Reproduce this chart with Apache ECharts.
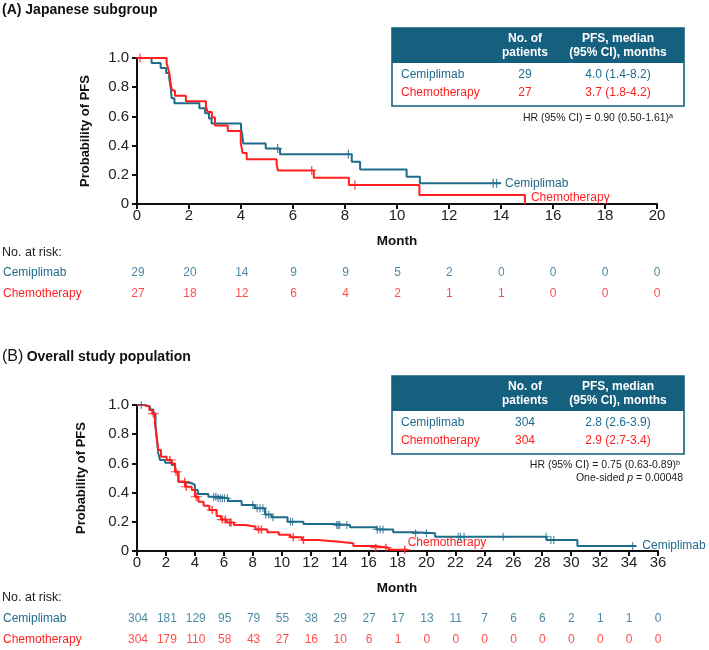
<!DOCTYPE html>
<html><head><meta charset="utf-8">
<script src="https://cdn.jsdelivr.net/npm/echarts@6/dist/echarts.min.js"></script>
<style>html,body{margin:0;padding:0;background:#fff}#c{width:709px;height:650px}</style>
</head><body><div id="c"></div>
<script>
const FONT = "'Liberation Sans', Arial, sans-serif";
const BLUE = '#1f6b8c';
const RED = '#ff1f1f';
const HEAD = '#155f7f';

// ---------- Panel A : Japanese subgroup ----------
const aCemiTime = [0, 0.56, 0.91, 1.12, 1.24, 1.3, 1.33, 1.44, 2.4, 2.62, 2.77, 2.87, 4.0, 4.04, 4.09, 4.95, 5.5, 8.26, 8.58, 10.37, 10.88, 14.0];
const aCemiSurv = [1.0, 0.966, 0.931, 0.897, 0.862, 0.793, 0.724, 0.69, 0.655, 0.621, 0.586, 0.552, 0.517, 0.483, 0.414, 0.38, 0.34, 0.29, 0.237, 0.187, 0.142, 0.142];
const aCemiCensor = [5.41, 8.13, 13.7, 13.83];
const aChemoTime = [0, 1.14, 1.2, 1.25, 1.3, 1.35, 1.46, 1.88, 2.65, 2.72, 2.88, 3.0, 3.49, 3.99, 4.06, 4.22, 5.37, 5.42, 6.8, 8.15, 10.86, 14.92];
const aChemoSurv = [1.0, 0.963, 0.926, 0.889, 0.815, 0.778, 0.741, 0.704, 0.667, 0.63, 0.593, 0.537, 0.5, 0.42, 0.35, 0.306, 0.27, 0.23, 0.18, 0.13, 0.062, 0];
const aChemoCensor = [0.12, 6.72, 8.38];
const aRiskMonths = [0, 2, 4, 6, 8, 10, 12, 14, 16, 18, 20];
const aRiskCemi = [29, 20, 14, 9, 9, 5, 2, 0, 0, 0, 0];
const aRiskChemo = [27, 18, 12, 6, 4, 2, 1, 1, 0, 0, 0];

// ---------- Panel B : Overall study population ----------
const bCemiTime = [0, 0.5, 0.9, 1.13, 1.28, 1.38, 1.47, 1.59, 1.94, 2.4, 2.63, 2.86, 3.2, 3.78, 4.0, 4.2, 4.93, 5.6, 6.3, 7.23, 8.15, 8.85, 9.3, 10.4, 11.5, 13.57, 14.72, 16.56, 17.7, 19.2, 20.6, 28.3, 30.43, 34.5];
const bCemiSurv = [1.0, 0.99, 0.97, 0.943, 0.85, 0.76, 0.67, 0.623, 0.605, 0.589, 0.543, 0.475, 0.464, 0.453, 0.418, 0.39, 0.372, 0.361, 0.342, 0.315, 0.292, 0.25, 0.231, 0.2, 0.185, 0.178, 0.162, 0.148, 0.128, 0.121, 0.098, 0.075, 0.034, 0.034];
const bCemiCensor = [0.3, 5.3, 5.45, 5.6, 5.75, 5.9, 6.05, 6.25, 8.0, 8.3, 8.5, 8.7, 8.9, 9.1, 9.4, 10.6, 10.75, 13.8, 13.9, 14.0, 14.5, 16.6, 16.8, 17.0, 19.25, 20.0, 22.2, 22.35, 22.6, 25.3, 28.27, 28.6, 28.8, 34.25];
const bChemoTime = [0, 0.5, 0.85, 1.05, 1.24, 1.36, 1.47, 1.66, 2.05, 2.4, 2.63, 2.86, 3.32, 3.78, 4.0, 4.24, 4.6, 5.0, 5.5, 5.8, 6.2, 6.7, 7.5, 8.2, 9.0, 9.8, 10.6, 11.4, 12.5, 13.8, 14.95, 16.5, 17.4, 18.7];
const bChemoSurv = [1.0, 0.99, 0.966, 0.94, 0.875, 0.783, 0.692, 0.646, 0.623, 0.6, 0.543, 0.475, 0.44, 0.418, 0.372, 0.338, 0.31, 0.28, 0.24, 0.215, 0.195, 0.178, 0.166, 0.148, 0.128, 0.112, 0.095, 0.075, 0.065, 0.053, 0.035, 0.023, 0.008, 0.008];
const bChemoCensor = [1.13, 2.28, 2.7, 3.3, 3.4, 4.1, 5.2, 5.9, 6.1, 6.4, 6.5, 8.4, 8.6, 10.8, 11.5, 16.5, 17.2, 18.5];
const bRiskMonths = [0, 2, 4, 6, 8, 10, 12, 14, 16, 18, 20, 22, 24, 26, 28, 30, 32, 34, 36];
const bRiskCemi = [304, 181, 129, 95, 79, 55, 38, 29, 27, 17, 13, 11, 7, 6, 6, 2, 1, 1, 0];
const bRiskChemo = [304, 179, 110, 58, 43, 27, 16, 10, 6, 1, 0, 0, 0, 0, 0, 0, 0, 0, 0];

const riskRows = ['Cemiplimab', 'Chemotherapy'];

// ---------- helpers ----------
function km(t, s) { return t.map((x, i) => [x, s[i]]); }
function survAt(t, s, x) { let v = s[0]; for (let i = 0; i < t.length; i++) { if (t[i] <= x) v = s[i]; } return v; }
function censorPts(c, t, s) { return c.map(x => [x, survAt(t, s, x)]); }
const PLUS = 'path://M4.3,0H5.7V4.3H10V5.7H5.7V10H4.3V5.7H0V4.3H4.3Z';

function kmAxes(gi, max) {
  return {
    x: {
      type: 'value', gridIndex: gi, min: 0, max: max, interval: 2,
      axisLine: { lineStyle: { color: '#111', width: 2 } },
      axisTick: { length: 5, lineStyle: { color: '#111', width: 2 } },
      axisLabel: { fontFamily: FONT, fontSize: 15, color: '#222', margin: 4 },
      splitLine: { show: false }
    },
    y: {
      type: 'value', gridIndex: gi, min: 0, max: 1, interval: 0.2,
      axisLine: { show: true, lineStyle: { color: '#111', width: 2 } },
      axisTick: { show: true, length: 5, lineStyle: { color: '#111', width: 2 } },
      axisLabel: { fontFamily: FONT, fontSize: 15, color: '#222', margin: 8,
        formatter: v => v === 0 ? '0' : v.toFixed(1) },
      splitLine: { show: false }
    }
  };
}
function riskAxes(gi, max) {
  return {
    x: { type: 'value', gridIndex: gi, min: 0, max: max, show: false },
    y: { type: 'category', gridIndex: gi, data: riskRows, inverse: true,
      axisLine: { show: false }, axisTick: { show: false },
      axisLabel: { align: 'left', margin: 135, fontFamily: FONT, fontSize: 12,
        color: v => v === 'Cemiplimab' ? BLUE : RED } }
  };
}
function kmLine(name, xi, t, s, color, endOffset) {
  return {
    type: 'line', name: name, xAxisIndex: xi, yAxisIndex: xi, step: 'end',
    data: km(t, s), showSymbol: false, symbol: 'none', animation: false,
    lineStyle: { color: color, width: 2 }, z: 3,
    endLabel: { show: true, formatter: name, color: color, fontFamily: FONT, fontSize: 12,
      distance: 4, offset: endOffset }
  };
}
function censorSeries(xi, c, t, s, color, size) {
  return {
    type: 'scatter', xAxisIndex: xi, yAxisIndex: xi, data: censorPts(c, t, s),
    symbol: PLUS, symbolSize: size, itemStyle: { color: color }, animation: false, z: 4
  };
}
function riskSeries(xi, months, vals, row, color) {
  return {
    type: 'scatter', xAxisIndex: xi, yAxisIndex: xi,
    data: months.map((m, i) => [m, row, vals[i]]),
    symbol: 'circle', symbolSize: 1, itemStyle: { color: 'rgba(0,0,0,0)' }, animation: false,
    label: { show: true, position: 'inside', formatter: p => String(p.data[2]),
      color: color, fontFamily: FONT, fontSize: 12 }
  };
}

const A = kmAxes(0, 20), AR = riskAxes(1, 20), B = kmAxes(2, 36), BR = riskAxes(3, 36);

function txt(x, y, text, o) {
  o = o || {};
  return { type: 'text', x: x, y: y, rotation: o.rot || 0, z: 10,
    style: Object.assign({ text: text, fill: o.color || '#111', font: o.font || ('12px ' + FONT),
      textAlign: o.align || 'left', textVerticalAlign: 'middle', align: o.align || 'left', verticalAlign: 'middle' }, o.extra || {}) };
}
function table(top, n1, m1, n2, m2) {
  const L = 392, W = 292, c1 = 525, c2 = 618;
  const bf = 'bold 12px ' + FONT, nf = '12px ' + FONT;
  return [
    { type: 'rect', shape: { x: L, y: top, width: W, height: 35 }, style: { fill: HEAD }, z: 9 },
    { type: 'rect', shape: { x: L, y: top, width: W, height: 78 }, style: { fill: 'none', stroke: HEAD, lineWidth: 1.6 }, z: 9 },
    txt(c1, top + 10.5, 'No. of', { align: 'center', color: '#fff', font: bf }),
    txt(c1, top + 24.5, 'patients', { align: 'center', color: '#fff', font: bf }),
    txt(c2, top + 10.5, 'PFS, median', { align: 'center', color: '#fff', font: bf }),
    txt(c2, top + 24.5, '(95% CI), months', { align: 'center', color: '#fff', font: bf }),
    txt(401, top + 47, 'Cemiplimab', { color: BLUE, font: nf }),
    txt(401, top + 64.7, 'Chemotherapy', { color: RED, font: nf }),
    txt(c1, top + 47, n1, { align: 'center', color: BLUE, font: nf }),
    txt(c1, top + 64.7, n2, { align: 'center', color: RED, font: nf }),
    txt(c2, top + 47, m1, { align: 'center', color: BLUE, font: nf }),
    txt(c2, top + 64.7, m2, { align: 'center', color: RED, font: nf })
  ];
}

const graphics = [].concat(
  [ txt(2, 10, '(A) Japanese subgroup', { font: 'bold 14px ' + FONT }),
    { type: 'text', x: 2, y: 357, z: 10, style: { text: '{a|(B)} {b|Overall study population}', fill: '#111', textVerticalAlign: 'middle', verticalAlign: 'middle',
      rich: { a: { fontFamily: FONT, fontSize: 16, fill: '#111' }, b: { fontFamily: FONT, fontSize: 14, fontWeight: 'bold', fill: '#111' } } } },
    txt(85, 131, 'Probability of PFS', { rot: Math.PI / 2, align: 'center', font: 'bold 13px ' + FONT }),
    txt(81, 478, 'Probability of PFS', { rot: Math.PI / 2, align: 'center', font: 'bold 13px ' + FONT }),
    txt(397, 241, 'Month', { align: 'center', font: 'bold 13.5px ' + FONT }),
    txt(397, 588, 'Month', { align: 'center', font: 'bold 13.5px ' + FONT }),
    txt(2, 253, 'No. at risk:', { font: '12.5px ' + FONT, color: '#222' }),
    txt(2, 598, 'No. at risk:', { font: '12.5px ' + FONT, color: '#222' }),
    txt(673, 118, 'HR (95% CI) = 0.90 (0.50-1.61)ᵃ', { align: 'right', font: '10.5px ' + FONT, color: '#222' }),
    txt(680, 465, 'HR (95% CI) = 0.75 (0.63-0.89)ᵇ', { align: 'right', font: '10.5px ' + FONT, color: '#222' }),
    { type: 'text', x: 683, y: 478, z: 10, style: { text: '{a|One-sided }{i|p}{a| = 0.00048}', textAlign: 'right', align: 'right', textVerticalAlign: 'middle', verticalAlign: 'middle',
      rich: { a: { fontFamily: FONT, fontSize: 10.5, fill: '#222' }, i: { fontFamily: FONT, fontSize: 10.5, fontStyle: 'italic', fill: '#222' } } } }
  ],
  table(28, '29', '4.0 (1.4-8.2)', '27', '3.7 (1.8-4.2)'),
  table(376, '304', '2.8 (2.6-3.9)', '304', '2.9 (2.7-3.4)')
);

const option = {
  backgroundColor: '#fff',
  animation: false,
  textStyle: { fontFamily: FONT },
  grid: [
    { left: 137, top: 58, width: 520, height: 146 },
    { left: 137, top: 262, width: 520, height: 42 },
    { left: 137, top: 405, width: 521, height: 146 },
    { left: 137, top: 608, width: 521, height: 44 }
  ],
  xAxis: [A.x, AR.x, B.x, BR.x],
  yAxis: [A.y, AR.y, B.y, BR.y],
  series: [
    kmLine('Cemiplimab', 0, aCemiTime, aCemiSurv, BLUE, [0, 0]),
    kmLine('Chemotherapy', 0, aChemoTime, aChemoSurv, RED, [2, -6]),
    censorSeries(0, aCemiCensor, aCemiTime, aCemiSurv, BLUE, [9, 9]),
    censorSeries(0, aChemoCensor, aChemoTime, aChemoSurv, RED, [9, 9]),
    riskSeries(1, aRiskMonths, aRiskCemi, 'Cemiplimab', BLUE),
    riskSeries(1, aRiskMonths, aRiskChemo, 'Chemotherapy', RED),
    kmLine('Cemiplimab', 2, bCemiTime, bCemiSurv, BLUE, [2, 0]),
    kmLine('Chemotherapy', 2, bChemoTime, bChemoSurv, RED, [-4, -7]),
    censorSeries(2, bCemiCensor, bCemiTime, bCemiSurv, BLUE, [8, 8]),
    censorSeries(2, bChemoCensor, bChemoTime, bChemoSurv, RED, [11, 8]),
    riskSeries(3, bRiskMonths, bRiskCemi, 'Cemiplimab', BLUE),
    riskSeries(3, bRiskMonths, bRiskChemo, 'Chemotherapy', RED)
  ],
  graphic: graphics
};
const chart = echarts.init(document.getElementById('c'), null, { renderer: 'canvas' });
chart.setOption(option);
</script>
</body></html>
